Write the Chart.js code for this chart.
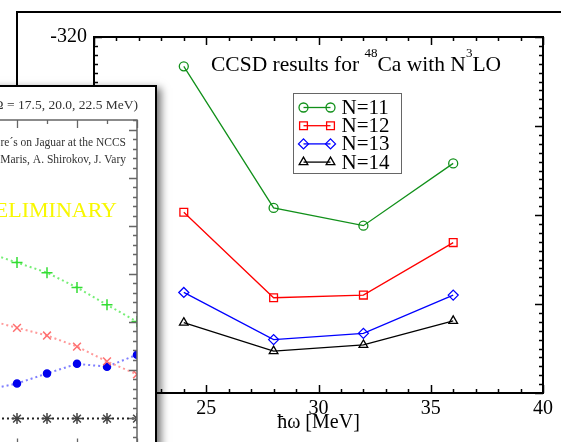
<!DOCTYPE html>
<html>
<head>
<meta charset="utf-8">
<script src="https://cdn.jsdelivr.net/npm/chart.js@4.4.0/dist/chart.umd.min.js"></script>
<style>
  html, body { margin: 0; padding: 0; background: #fff; }
  #stage { position: relative; width: 561px; height: 442px; overflow: hidden; background: #fff; }
  #frame { position: absolute; left: 16px; top: 11px; width: 700px; height: 600px; border: 2px solid #000; z-index: 0; }
  #main { position: absolute; left: 0; top: 0; z-index: 1; }
  #inset { position: absolute; left: -267px; top: 85px; width: 420px; height: 420px; border: 2px solid #000;
           background: #fff; box-shadow: 4px 3px 8px rgba(0,0,0,0.55); z-index: 2; }
  #insetChart { position: absolute; left: 0; top: 0; }
</style>
</head>
<body>
<div id="stage">
  <div id="frame"></div>
  <canvas id="main" width="561" height="442"></canvas>
  <div id="inset"><canvas id="insetChart" width="420" height="400"></canvas></div>
</div>
<script>
// Main chart data: CCSD energies of 48Ca (MeV) vs hbar omega
const hwValues = [24, 28, 32, 36]
const energyN11 = [-323.3, -339.2, -341.2, -334.2]
const energyN12 = [-339.7, -349.3, -349.0, -343.1]
const energyN13 = [-348.7, -354.0, -353.3, -349.0]
const energyN14 = [-352.1, -355.3, -354.6, -351.9]
const xTicks = [20, 25, 30, 35, 40]
const yTicks = [-360, -350, -340, -330, -320]

// Inset (the overlapping figure on the left)
const insetX = [5, 6, 7, 8, 9, 10]
const insetGreen = [-385.6, -387.7, -389.8, -392.9, -396.5, -400.0]
const insetRed = [-399.6, -401.3, -402.9, -405.2, -408.3, -411.0]
const insetBlue = [-414.2, -412.9, -410.8, -408.8, -409.4, -406.9]
const insetBlack = [-420.2, -420.2, -420.2, -420.2, -420.2, -420.2]

const serif = '"Liberation Serif", "Times New Roman", serif'

function points(xs, ys) {
  return xs.map((x, i) => ({ x: x, y: ys[i] }))
}

// Box around the plot area with ticks pointing inwards on all four sides
const frameTicks = {
  id: 'frameTicks',
  afterDatasetsDraw(chart, args, o) {
    const { ctx, chartArea: a } = chart
    const xs = chart.scales.x, ys = chart.scales.y
    ctx.save()
    ctx.strokeStyle = o.color
    ctx.lineWidth = o.tickWidth
    ctx.beginPath()
    let n = Math.round((xs.max - xs.min) / o.xMinor)
    for (let i = 0; i <= n; i++) {
      const v = xs.min + i * o.xMinor
      const len = Math.abs(v / o.xMajor - Math.round(v / o.xMajor)) < 1e-6 ? o.majorLen : o.minorLen
      const px = Math.round(xs.getPixelForValue(v)) + 0.5
      ctx.moveTo(px, a.top); ctx.lineTo(px, a.top + len)
      ctx.moveTo(px, a.bottom); ctx.lineTo(px, a.bottom - len)
    }
    n = Math.round((ys.max - ys.min) / o.yMinor)
    for (let i = 0; i <= n; i++) {
      const v = ys.min + i * o.yMinor
      const len = Math.abs(v / o.yMajor - Math.round(v / o.yMajor)) < 1e-6 ? o.majorLen : o.minorLen
      const py = Math.round(ys.getPixelForValue(v)) + 0.5
      ctx.moveTo(a.left, py); ctx.lineTo(a.left + len, py)
      ctx.moveTo(a.right, py); ctx.lineTo(a.right - len, py)
    }
    ctx.stroke()
    ctx.lineWidth = o.lineWidth
    ctx.strokeRect(a.left, a.top, a.right - a.left, a.bottom - a.top)
    ctx.restore()
  }
}

// Title with superscripts
const ccsdTitle = {
  id: 'ccsdTitle',
  afterDraw(chart) {
    const { ctx, chartArea: a } = chart
    const big = '21.5px ' + serif, small = '13px ' + serif
    const parts = [['CCSD results for ', big, 0], ['48', small, -14], ['Ca with N', big, 0], ['3', small, -14], ['LO', big, 0]]
    let x = a.left + 117
    const y = a.top + 34
    ctx.save()
    ctx.fillStyle = '#000'
    ctx.textBaseline = 'alphabetic'
    parts.forEach(([t, f, dy]) => {
      ctx.font = f
      ctx.fillText(t, x, y + dy)
      x += ctx.measureText(t).width
    })
    ctx.restore()
  }
}

// Boxed legend, line with a symbol at each end
const boxLegend = {
  id: 'boxLegend',
  afterDraw(chart) {
    const { ctx, chartArea: a } = chart
    const left = a.left + 199.5, top = a.top + 56.5
    ctx.save()
    ctx.strokeStyle = '#666'
    ctx.lineWidth = 1
    ctx.strokeRect(left, top, 108, 80)
    ctx.font = '21px ' + serif
    ctx.textBaseline = 'middle'
    chart.data.datasets.forEach((ds, i) => {
      const y = top + 14 + i * 18.2
      const x1 = left + 10, x2 = left + 37
      ctx.strokeStyle = ds.borderColor
      ctx.lineWidth = ds.borderWidth
      ctx.beginPath(); ctx.moveTo(x1, y); ctx.lineTo(x2, y); ctx.stroke()
      ctx.fillStyle = 'rgba(0,0,0,0)'
      ctx.lineWidth = ds.pointBorderWidth
      const p = { pointStyle: ds.pointStyle, radius: ds.pointRadius, rotation: 0, borderWidth: ds.pointBorderWidth }
      Chart.helpers.drawPoint(ctx, p, x1, y)
      Chart.helpers.drawPoint(ctx, p, x2, y)
      ctx.fillStyle = '#000'
      ctx.fillText(ds.label, left + 48, y + 1)
    })
    ctx.restore()
  }
}

function mainSet(label, ys, color, style, r) {
  return {
    label: label, data: points(hwValues, ys), borderColor: color, backgroundColor: 'rgba(0,0,0,0)',
    borderWidth: 1.3, pointStyle: style, pointRadius: r, pointBorderWidth: 1.3,
    pointBorderColor: color, pointBackgroundColor: 'rgba(0,0,0,0)', tension: 0
  }
}

const tickFont = { family: serif, size: 20 }

new Chart(document.getElementById('main'), {
  type: 'line',
  data: {
    datasets: [
      mainSet('N=11', energyN11, '#11901a', 'circle', 4.5),
      mainSet('N=12', energyN12, '#ff0000', 'rect', 5.5),
      mainSet('N=13', energyN13, '#0000ff', 'rectRot', 5),
      mainSet('N=14', energyN14, '#000000', 'triangle', 5)
    ]
  },
  options: {
    responsive: false,
    animation: false,
    devicePixelRatio: 1,
    layout: { padding: { left: 0, top: 37, right: 18, bottom: 0 } },
    plugins: {
      legend: { display: false },
      tooltip: { enabled: false },
      frameTicks: { color: '#000', lineWidth: 2, tickWidth: 1.5, xMinor: 1, xMajor: 5, yMinor: 1, yMajor: 10, majorLen: 8, minorLen: 4 }
    },
    scales: {
      x: {
        type: 'linear', min: 20, max: 40,
        grid: { display: false, drawTicks: false },
        border: { display: false },
        afterBuildTicks: s => { s.ticks = xTicks.map(v => ({ value: v })) },
        afterFit: s => { s.height = 49 },
        ticks: { font: tickFont, color: '#000', padding: 4, maxRotation: 0 },
        title: { display: true, text: 'ħω [MeV]', font: tickFont, color: '#000', padding: { top: 0, bottom: 7 } }
      },
      y: {
        type: 'linear', min: -360, max: -320,
        grid: { display: false, drawTicks: false },
        border: { display: false },
        afterBuildTicks: s => { s.ticks = yTicks.map(v => ({ value: v })) },
        afterFit: s => { s.width = 94 },
        ticks: { font: tickFont, color: '#000', padding: 7 }
      }
    }
  },
  plugins: [frameTicks, ccsdTitle, boxLegend]
})

// Inset texts
const insetTexts = {
  id: 'insetTexts',
  afterDraw(chart) {
    const { ctx, chartArea: a } = chart
    ctx.save()
    ctx.textAlign = 'right'
    ctx.textBaseline = 'middle'
    ctx.fillStyle = '#333'
    ctx.font = '13.5px ' + serif
    ctx.fillText('Ca48 NCFC (ħΩ = 17.5, 20.0, 22.5 MeV)', a.right + 1, a.top - 15)
    ctx.font = '11.5px ' + serif
    ctx.fillText('10⁵ core´s on Jaguar at the NCCS', a.right - 11, a.top + 23)
    ctx.fillText('P. Maris, A. Shirokov, J. Vary', a.right - 11, a.top + 40)
    ctx.fillStyle = '#f8f800'
    ctx.font = '22px ' + serif
    ctx.fillText('PRELIMINARY', a.right - 20, a.top + 91)
    ctx.restore()
  }
}

function insetSet(ys, line, mark, style, r, fill) {
  return {
    data: points(insetX, ys), borderColor: line, borderWidth: 2, borderDash: [2, 3],
    pointStyle: style, pointRadius: r, pointBorderColor: mark, pointBackgroundColor: fill,
    pointBorderWidth: 1.5, tension: 0
  }
}

new Chart(document.getElementById('insetChart'), {
  type: 'line',
  data: {
    datasets: [
      insetSet(insetGreen, '#77ee77', '#33dd33', 'cross', 5.5, '#33dd33'),
      insetSet(insetRed, '#ff9a9a', '#ff7070', 'crossRot', 5.5, '#ff7070'),
      insetSet(insetBlue, '#8080ff', '#0000ee', 'circle', 3.5, '#0000ee'),
      insetSet(insetBlack, '#222222', '#444444', 'star', 5.5, '#444444')
    ]
  },
  options: {
    responsive: false,
    animation: false,
    devicePixelRatio: 1,
    layout: { padding: { left: 102, top: 33, right: 18, bottom: 40.6 } },
    plugins: {
      legend: { display: false },
      tooltip: { enabled: false },
      frameTicks: { color: '#666', lineWidth: 1.5, tickWidth: 1.3, xMinor: 1, xMajor: 2, yMinor: 2, yMajor: 10, majorLen: 8, minorLen: 4 }
    },
    scales: {
      x: { type: 'linear', min: 0, max: 10, display: false },
      y: { type: 'linear', min: -426, max: -358, display: false }
    }
  },
  plugins: [frameTicks, insetTexts]
})
</script>
</body>
</html>
